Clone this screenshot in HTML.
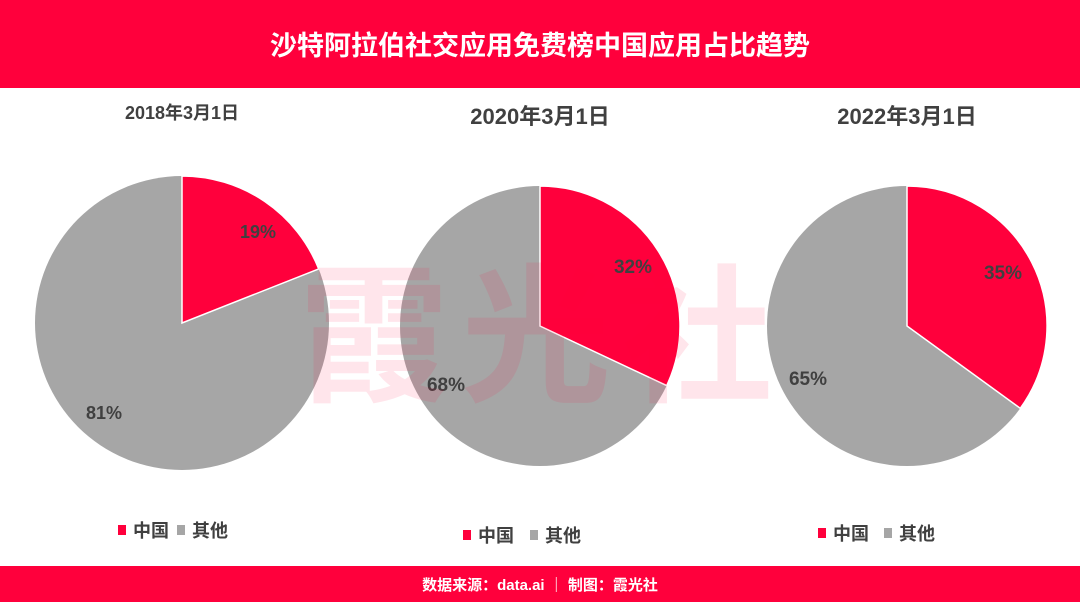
<!DOCTYPE html>
<html><head><meta charset="utf-8"><style>
body{margin:0;width:1080px;height:602px;overflow:hidden;background:#fff}
svg{display:block}
text{font-family:"Liberation Sans","Noto Sans CJK SC",sans-serif;font-weight:bold}
</style></head><body>
<svg width="1080" height="602" viewBox="0 0 1080 602">
<rect x="0" y="0" width="1080" height="88" fill="#ff003c"/>
<text x="540" y="55" text-anchor="middle" font-size="27" fill="#fff">沙特阿拉伯社交应用免费榜中国应用占比趋势</text>
<rect x="0" y="566" width="1080" height="36" fill="#ff003c"/>
<text x="540" y="590" text-anchor="middle" font-size="15" fill="#fff">数据来源：data.ai  ｜  制图：霞光社</text>

<text x="182" y="119" text-anchor="middle" font-size="18" fill="#404040">2018年3月1日</text>
<text x="540" y="124" text-anchor="middle" font-size="22" fill="#404040">2020年3月1日</text>
<text x="907" y="124" text-anchor="middle" font-size="22" fill="#404040">2022年3月1日</text>

<circle cx="182" cy="323" r="147" fill="#a6a6a6"/>
<path d="M182,323 L182,176 A147,147 0 0 1 318.7,268.9 Z" fill="#ff003c" stroke="#fff" stroke-width="1.5"/>
<circle cx="540" cy="326" r="140" fill="#a6a6a6"/>
<path d="M540,326 L540,186 A140,140 0 0 1 666.7,385.6 Z" fill="#ff003c" stroke="#fff" stroke-width="1.5"/>
<circle cx="907" cy="326" r="140" fill="#a6a6a6"/>
<path d="M907,326 L907,186 A140,140 0 0 1 1020.3,408.3 Z" fill="#ff003c" stroke="#fff" stroke-width="1.5"/>

<text x="258" y="238" text-anchor="middle" font-size="18" fill="#404040">19%</text>
<text x="104" y="419" text-anchor="middle" font-size="18" fill="#404040">81%</text>
<text x="633" y="273" text-anchor="middle" font-size="19" fill="#404040">32%</text>
<text x="446" y="391" text-anchor="middle" font-size="19" fill="#404040">68%</text>
<text x="1003" y="279" text-anchor="middle" font-size="19" fill="#404040">35%</text>
<text x="808" y="385" text-anchor="middle" font-size="19" fill="#404040">65%</text>

<text x="542" y="390" text-anchor="middle" font-size="150" fill="rgba(255,0,60,0.10)" letter-spacing="12">霞光社</text>

<rect x="118" y="525" width="8" height="10" fill="#ff003c"/>
<text x="133" y="537" font-size="18" fill="#404040">中国</text>
<rect x="177" y="525" width="8" height="10" fill="#a6a6a6"/>
<text x="192" y="537" font-size="18" fill="#404040">其他</text>
<rect x="463" y="530" width="8" height="10" fill="#ff003c"/>
<text x="478" y="542" font-size="18" fill="#404040">中国</text>
<rect x="530" y="530" width="8" height="10" fill="#a6a6a6"/>
<text x="545" y="542" font-size="18" fill="#404040">其他</text>
<rect x="818" y="528" width="8" height="10" fill="#ff003c"/>
<text x="833" y="540" font-size="18" fill="#404040">中国</text>
<rect x="884" y="528" width="8" height="10" fill="#a6a6a6"/>
<text x="899" y="540" font-size="18" fill="#404040">其他</text>
</svg>
</body></html>
